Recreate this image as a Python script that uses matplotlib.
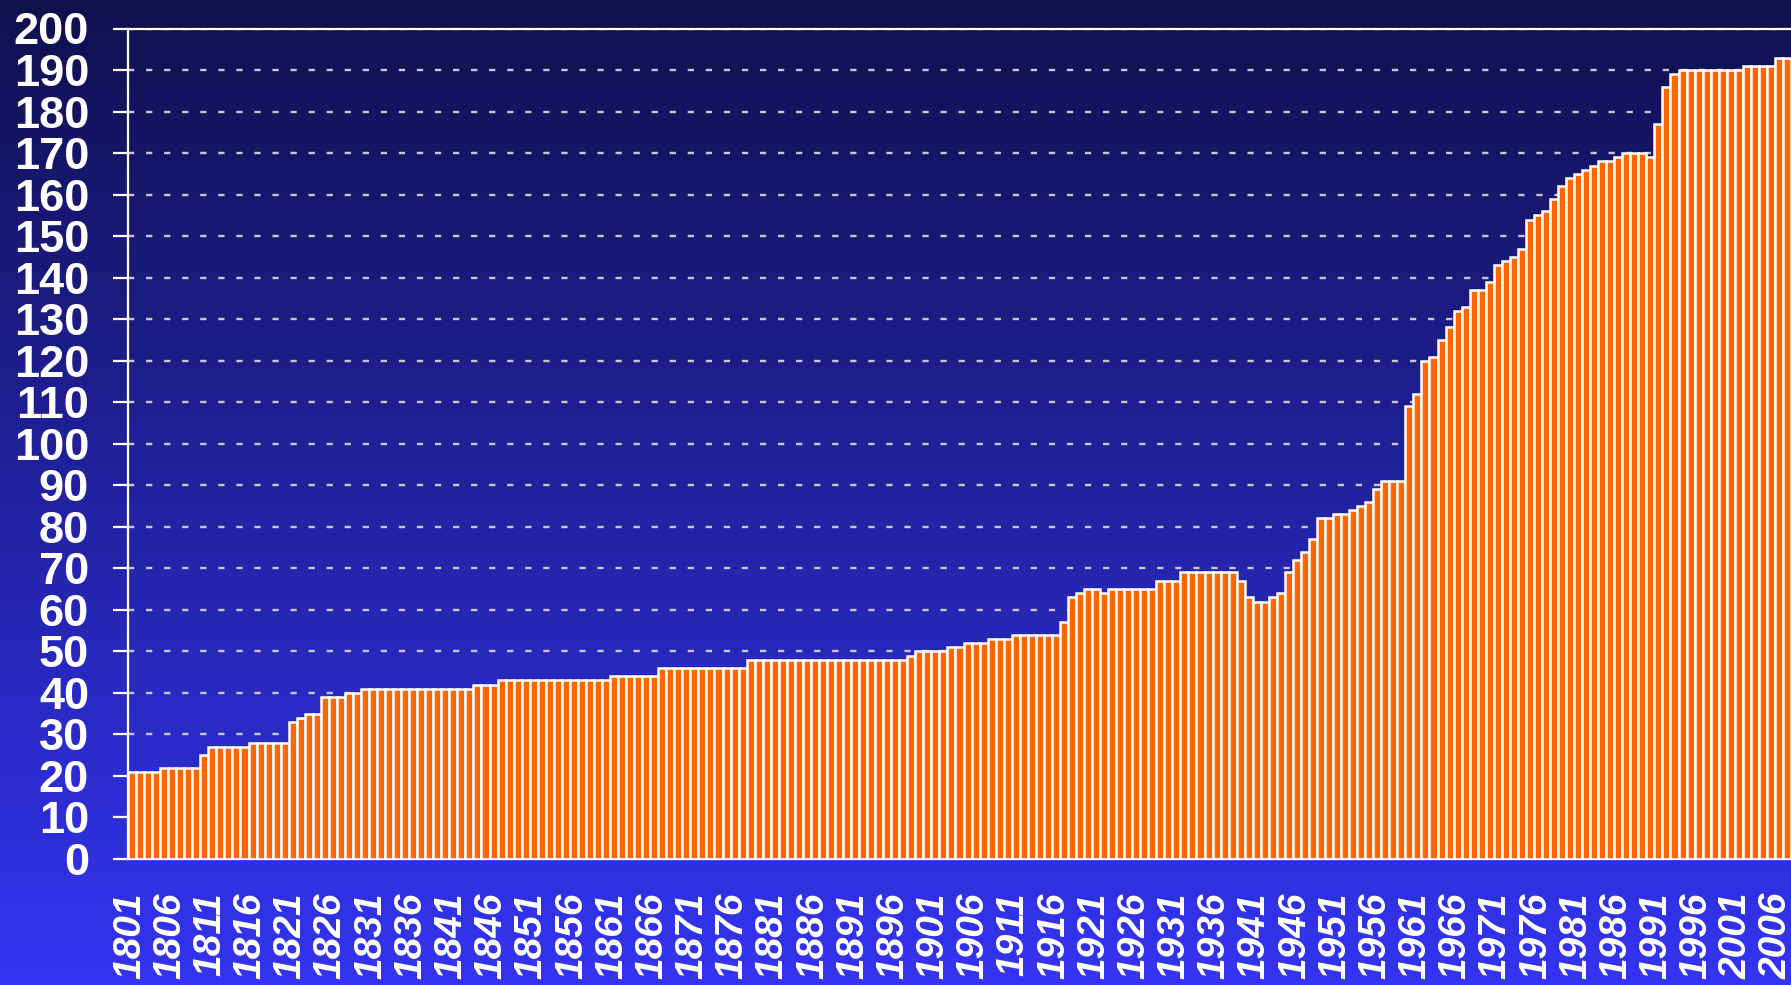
import numpy as np
import matplotlib
matplotlib.use('Agg')
import matplotlib.pyplot as plt
import matplotlib.transforms as mtransforms
from matplotlib.colors import LinearSegmentedColormap

plt.rcParams['font.family'] = ['Liberation Sans', 'DejaVu Sans']
plt.rcParams['lines.scale_dashes'] = False

years = list(range(1801, 2008))
# number of states per year (one row per decade)
states = [
    21, 21, 21, 21, 22, 22, 22, 22, 22, 25,            # 1801-1810
    27, 27, 27, 27, 27, 28, 28, 28, 28, 28,            # 1811-1820
    33, 34, 35, 35, 39, 39, 39, 40, 40, 41,            # 1821-1830
    41, 41, 41, 41, 41, 41, 41, 41, 41, 41,            # 1831-1840
    41, 41, 41, 42, 42, 42, 43, 43, 43, 43,            # 1841-1850
    43, 43, 43, 43, 43, 43, 43, 43, 43, 43,            # 1851-1860
    44, 44, 44, 44, 44, 44, 46, 46, 46, 46,            # 1861-1870
    46, 46, 46, 46, 46, 46, 46, 48, 48, 48,            # 1871-1880
    48, 48, 48, 48, 48, 48, 48, 48, 48, 48,            # 1881-1890
    48, 48, 48, 48, 48, 48, 48, 49, 50, 50,            # 1891-1900
    50, 50, 51, 51, 52, 52, 52, 53, 53, 53,            # 1901-1910
    54, 54, 54, 54, 54, 54, 57, 63, 64, 65,            # 1911-1920
    65, 64, 65, 65, 65, 65, 65, 65, 67, 67,            # 1921-1930
    67, 69, 69, 69, 69, 69, 69, 69, 67, 63,            # 1931-1940
    62, 62, 63, 64, 69, 72, 74, 77, 82, 82,            # 1941-1950
    83, 83, 84, 85, 86, 89, 91, 91, 91, 109,           # 1951-1960
    112, 120, 121, 125, 128, 132, 133, 137, 137, 139,  # 1961-1970
    143, 144, 145, 147, 154, 155, 156, 159, 162, 164,  # 1971-1980
    165, 166, 167, 168, 168, 169, 170, 170, 170, 169,  # 1981-1990
    177, 186, 189, 190, 190, 190, 190, 190, 190, 190,  # 1991-2000
    190, 191, 191, 191, 191, 193, 193,                 # 2001-2007
]
y_ticks = list(range(0, 201, 10))
label_years = years[::5]

fig = plt.figure(figsize=(17.91, 9.85), dpi=100)

# background gradient, dark navy at the top to bright blue at the bottom
bg = fig.add_axes([0, 0, 1, 1], zorder=0)
cmap = LinearSegmentedColormap.from_list('bg', ['#10104E', '#3434F2'])
bg.imshow(np.linspace(0, 1, 256).reshape(-1, 1), aspect='auto', cmap=cmap,
          extent=[0, 1, 0, 1], origin='upper')
bg.axis('off')

W, H = 1791, 985
ax = fig.add_axes([128 / W, 1 - 859 / H, 1 - 128 / W, (859 - 28.5) / H], zorder=1)
ax.set_facecolor('none')

x = np.arange(len(years))
ax.bar(x, states, width=1.0, color='#FF6600', edgecolor='white', linewidth=1.8, zorder=3)

ax.set_xlim(-0.5, len(years) - 0.5)
ax.set_ylim(0, 200)

ax.set_yticks(y_ticks, labels=[str(v) for v in y_ticks], fontsize=32.5,
              fontweight='bold', color='white')
ax.yaxis.grid(True, color='#C8C8C8', linestyle=(0, (4.5, 8.5)), linewidth=1.7)
ax.set_axisbelow(True)
ax.tick_params(axis='y', colors='white', length=11, width=1.6, pad=17)

ax.set_xticks([years.index(y) for y in label_years],
              labels=[str(y) for y in label_years], rotation=90, fontsize=28,
              fontweight='bold', fontstyle='italic', color='white')
ax.tick_params(axis='x', length=0, pad=24)
shift = mtransforms.ScaledTranslation(-2 / 100, 0, fig.dpi_scale_trans)
for lab in ax.get_xticklabels():
    lab.set_transform(lab.get_transform() + shift)

for side in ['left', 'bottom', 'top']:
    ax.spines[side].set_color('white')
    ax.spines[side].set_linewidth(1.6)
ax.spines['right'].set_visible(False)

fig.savefig('out.png', dpi=100)
